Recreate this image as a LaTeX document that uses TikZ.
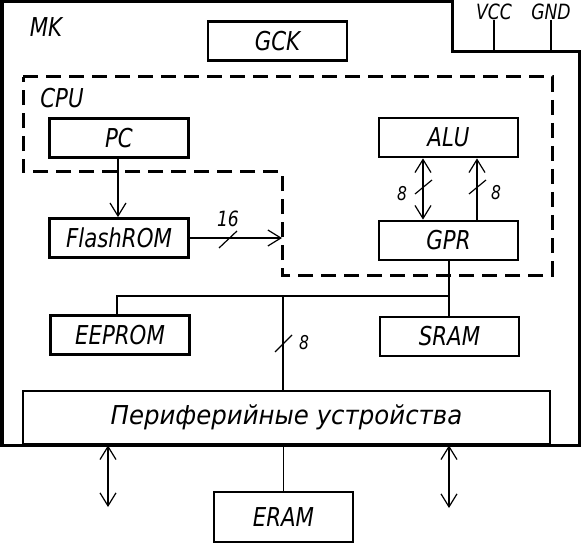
\documentclass[tikz,border=0pt]{standalone}
\usepackage{fontspec}
\setmainfont{DejaVu Sans}[FakeStretch=0.82]
\newfontfamily\perfont{DejaVu Sans}[FakeStretch=0.94]
\usetikzlibrary{arrows.meta,calc}
\begin{document}
\begin{tikzpicture}[x=1pt,y=-1pt,
  blk/.style={draw,line width=2.8pt,minimum width=139pt,minimum height=39pt,inner sep=0pt,font=\fontsize{26}{26}\selectfont\itshape},
  lbl/.style={inner sep=0pt,font=\fontsize{26}{26}\selectfont\itshape},
  small/.style={inner sep=0pt,font=\fontsize{21}{21}\selectfont\itshape},
  tiny/.style={inner sep=0pt,font=\fontsize{19}{19}\selectfont\itshape},
  conn/.style={line width=1.2pt},
  >={Straight Barb[length=13pt,width=16pt]},
  frame/.style={line width=3pt},
  cpuline/.style={line width=3pt,dash pattern=on 15pt off 8pt}]
\useasboundingbox (0,0) rectangle (582,543);
% MK outline
\draw[frame] (2,2) -- (452,2) -- (452,52) -- (579,52) -- (579,445) -- (2,445) -- cycle;
\node[lbl] (mk) at (46,27) {MK};
% power pins
\node[small] (vcc) at (494,12) {VCC};
\node[small] (gnd) at (551,12) {GND};
\coordinate (vccpin) at (494,52);
\coordinate (gndpin) at (551,52);
\draw[conn] (vcc.south) -- (vccpin);
\draw[conn] (gnd.south) -- (gndpin);
% CPU dashed region
\draw[cpuline] (23,77) -- (552,77) -- (552,275) -- (282,275) -- (282,172) -- (23,172) -- cycle;
\node[lbl] (cpu) at (62,98) {CPU};
% blocks
\node[blk] (gck) at (277.5,41) {GCK};
\node[blk] (pc) at (119,138) {PC};
\node[blk] (alu) at (448.5,137.5) {ALU};
\node[blk] (flash) at (119,238) {FlashROM};
\node[blk] (gpr) at (448.5,240.5) {GPR};
\node[blk] (eeprom) at (120,335) {EEPROM};
\node[blk] (sram) at (449.5,336.5) {SRAM};
\node[blk,minimum width=527pt,minimum height=53pt] (per) at (286.5,417.5) {\perfont Периферийные устройства};
\node[blk,minimum height=50pt] (eram) at (283.5,517) {ERAM};
% PC -> FlashROM
\draw[conn,->] (pc.south -| 118,0) -- (flash.north -| 118,0);
% FlashROM -> CPU (16)
\coordinate (cpuin) at (282,238);
\draw[conn,->] (flash.east) -- (cpuin);
\draw[conn] (219,248) -- (237,231);
\node[small] (n16) at (228,219) {16};
% ALU <-> GPR
\draw[conn,<->] ([xshift=-25.5pt]alu.south) -- ([xshift=-25.5pt]gpr.north);
\draw[conn] (415,194) -- (432,180);
\node[tiny] (n8a) at (402,194) {8};
\draw[conn,->] ([xshift=28.5pt]gpr.north) -- ([xshift=28.5pt]alu.south);
\draw[conn] (469,194) -- (486,180);
\node[tiny] (n8b) at (496,193) {8};
% internal bus
\coordinate (busL) at (117,296);
\coordinate (busM) at (283,296);
\coordinate (busR) at (449,296);
\draw[conn] (gpr.south -| busR) -- (sram.north -| busR);
\draw[conn] (eeprom.north -| busL) -- (busL) -- (busR);
\draw[conn] (busM) -- (per.north -| busM);
\draw[conn] (275,352) -- (292,335);
\node[tiny] (n8c) at (304,343) {8};
% periphery to outside
\draw[conn] (per.south -| eram.north) -- (eram.north);
\coordinate (ioL) at (108,507);
\coordinate (ioR) at (449,508);
\draw[conn,<->] (per.south -| ioL) -- (ioL);
\draw[conn,<->] (per.south -| ioR) -- (ioR);
\end{tikzpicture}
\end{document}
